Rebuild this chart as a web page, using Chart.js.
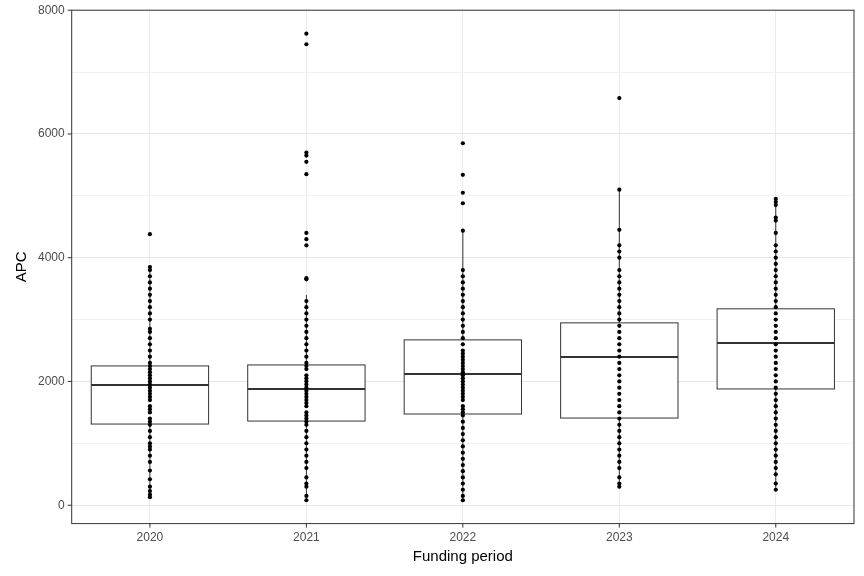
<!DOCTYPE html>
<html>
<head>
<meta charset="utf-8">
<script src="https://cdn.jsdelivr.net/npm/chart.js@4"></script>
<style>
  body { margin: 0; background: #fff; }
  #wrap { width: 864px; height: 576px; }
</style>
</head>
<body>
<div id="wrap"><canvas id="apcChart"></canvas></div>
<script>
// Données
var periods = ['2020', '2021', '2022', '2023', '2024'];
var q1 = [1312, 1360, 1474, 1409, 1879];
var median = [1943, 1878, 2121, 2397, 2623];
var q3 = [2251, 2267, 2672, 2947, 3174];
var whiskerLow = [130, 80, 80, 300, 250];
var whiskerHigh = [3850, 3400, 4437, 5100, 4950];
var yTicks = [0, 2000, 4000, 6000, 8000];

var apc2020 = [130,170,230,300,420,560,700,800,900,950,1000,1100,1200,1300,1350,1400,1500,1550,1600,1700,1750,1800,1850,1900,1950,2000,2050,2100,2150,2200,2250,2300,2400,2500,2600,2700,2800,2850,3000,3100,3200,3300,3400,3500,3600,3700,3800,3850,4380];
var apc2021 = [80,150,300,350,450,600,700,800,900,1000,1100,1200,1300,1350,1400,1450,1500,1600,1650,1700,1750,1800,1850,1900,1950,2000,2050,2100,2200,2250,2300,2400,2500,2600,2700,2800,2900,3000,3100,3200,3300,3650,3670,4200,4300,4400,5350,5550,5650,5700,7450,7620];
var apc2022 = [80,150,250,350,450,550,650,750,850,950,1050,1150,1250,1350,1450,1500,1550,1600,1700,1750,1800,1850,1900,1950,2000,2050,2100,2150,2200,2250,2300,2350,2400,2450,2500,2600,2700,2800,2900,3000,3100,3200,3300,3400,3500,3600,3700,3800,4437,4880,5050,5340,5850];
var apc2023 = [300,350,450,600,700,800,900,1000,1100,1200,1300,1400,1500,1600,1700,1800,1900,2000,2100,2200,2300,2400,2500,2600,2700,2800,2900,3000,3100,3200,3300,3400,3500,3600,3700,3800,4000,4100,4200,4450,5100,6580];
var apc2024 = [250,350,500,600,700,800,900,1000,1100,1200,1300,1400,1500,1600,1700,1800,1900,2000,2100,2200,2300,2400,2500,2600,2700,2800,2900,3000,3100,3200,3300,3400,3500,3600,3700,3800,3900,4000,4100,4200,4400,4600,4650,4850,4900,4950];
var allApc = [apc2020, apc2021, apc2022, apc2023, apc2024];

// Construire les points
var points = [];
allApc.forEach(function(vals, i) {
    vals.forEach(function(v) {
        points.push({ x: periods[i], y: v });
    });
});

// Plugin pour dessiner les boîtes
var boxPlugin = {
    id: 'boxPlugin',
    beforeDatasetsDraw: function(chart) {
        var ctx = chart.ctx;
        var xs = chart.scales.x;
        var ys = chart.scales.y;
        var half = xs.width / periods.length * 0.375;
        ctx.save();
        ctx.strokeStyle = '#333333';
        for (var i = 0; i < periods.length; i++) {
            var cx = xs.getPixelForValue(i);
            ctx.lineWidth = 1;
            ctx.beginPath();
            ctx.moveTo(cx, ys.getPixelForValue(q3[i]));
            ctx.lineTo(cx, ys.getPixelForValue(whiskerHigh[i]));
            ctx.moveTo(cx, ys.getPixelForValue(q1[i]));
            ctx.lineTo(cx, ys.getPixelForValue(whiskerLow[i]));
            ctx.stroke();
            var top = ys.getPixelForValue(q3[i]);
            var bot = ys.getPixelForValue(q1[i]);
            ctx.fillStyle = '#ffffff';
            ctx.fillRect(cx - half, top, half * 2, bot - top);
            ctx.strokeRect(cx - half, top, half * 2, bot - top);
            ctx.lineWidth = 2;
            ctx.beginPath();
            ctx.moveTo(cx - half, ys.getPixelForValue(median[i]));
            ctx.lineTo(cx + half, ys.getPixelForValue(median[i]));
            ctx.stroke();
        }
        ctx.restore();
    },
    afterDraw: function(chart) {
        var a = chart.chartArea;
        var ctx = chart.ctx;
        ctx.save();
        ctx.strokeStyle = '#333333';
        ctx.lineWidth = 1;
        ctx.strokeRect(a.left, a.top, a.right - a.left, a.bottom - a.top);
        // petits traits de graduation
        ctx.beginPath();
        for (var i = 0; i < periods.length; i++) {
            var x = chart.scales.x.getPixelForValue(i);
            ctx.moveTo(x, a.bottom);
            ctx.lineTo(x, a.bottom + 4);
        }
        yTicks.forEach(function(v) {
            var y = chart.scales.y.getPixelForValue(v);
            ctx.moveTo(a.left, y);
            ctx.lineTo(a.left - 4, y);
        });
        ctx.stroke();
        ctx.restore();
    }
};

var ctx = document.getElementById('apcChart').getContext('2d');
var apcChart = new Chart(ctx, {
    type: 'line',
    data: {
        labels: periods,
        datasets: [{
            data: points,
            showLine: false,
            pointRadius: 2.1,
            pointBackgroundColor: '#000000',
            pointBorderWidth: 0
        }]
    },
    options: {
        responsive: true,
        maintainAspectRatio: false,
        animation: false,
        layout: { padding: { top: 8, right: 10, left: 9, bottom: 6 } },
        plugins: {
            legend: { display: false },
            tooltip: { enabled: false }
        },
        scales: {
            x: {
                type: 'category',
                offset: true,
                grid: { offset: false, color: '#ebebeb', drawTicks: true, tickLength: 4, tickColor: 'rgba(0,0,0,0)' },
                border: { display: false },
                ticks: { color: '#4d4d4d', font: { family: 'Liberation Sans', size: 12 } },
                title: { display: true, text: 'Funding period', color: '#000000', font: { family: 'Liberation Sans', size: 15 }, padding: { top: 0 } }
            },
            y: {
                min: -297,
                max: 8000,
                afterBuildTicks: function(axis) {
                    var t = [];
                    for (var v = 0; v <= 8000; v += 1000) t.push({ value: v });
                    axis.ticks = t;
                },
                grid: {
                    color: function(c) { return yTicks.indexOf(c.tick.value) >= 0 ? '#e6e6e6' : '#f2f2f2'; },
                    tickLength: 4,
                    tickColor: 'rgba(0,0,0,0)'
                },
                border: { display: false },
                ticks: {
                    color: '#4d4d4d',
                    font: { family: 'Liberation Sans', size: 12 },
                    callback: function(v) { return yTicks.indexOf(v) >= 0 ? v : ''; }
                },
                title: { display: true, text: 'APC', color: '#000000', font: { family: 'Liberation Sans', size: 15 } }
            }
        }
    },
    plugins: [boxPlugin]
});
</script>
</body>
</html>
